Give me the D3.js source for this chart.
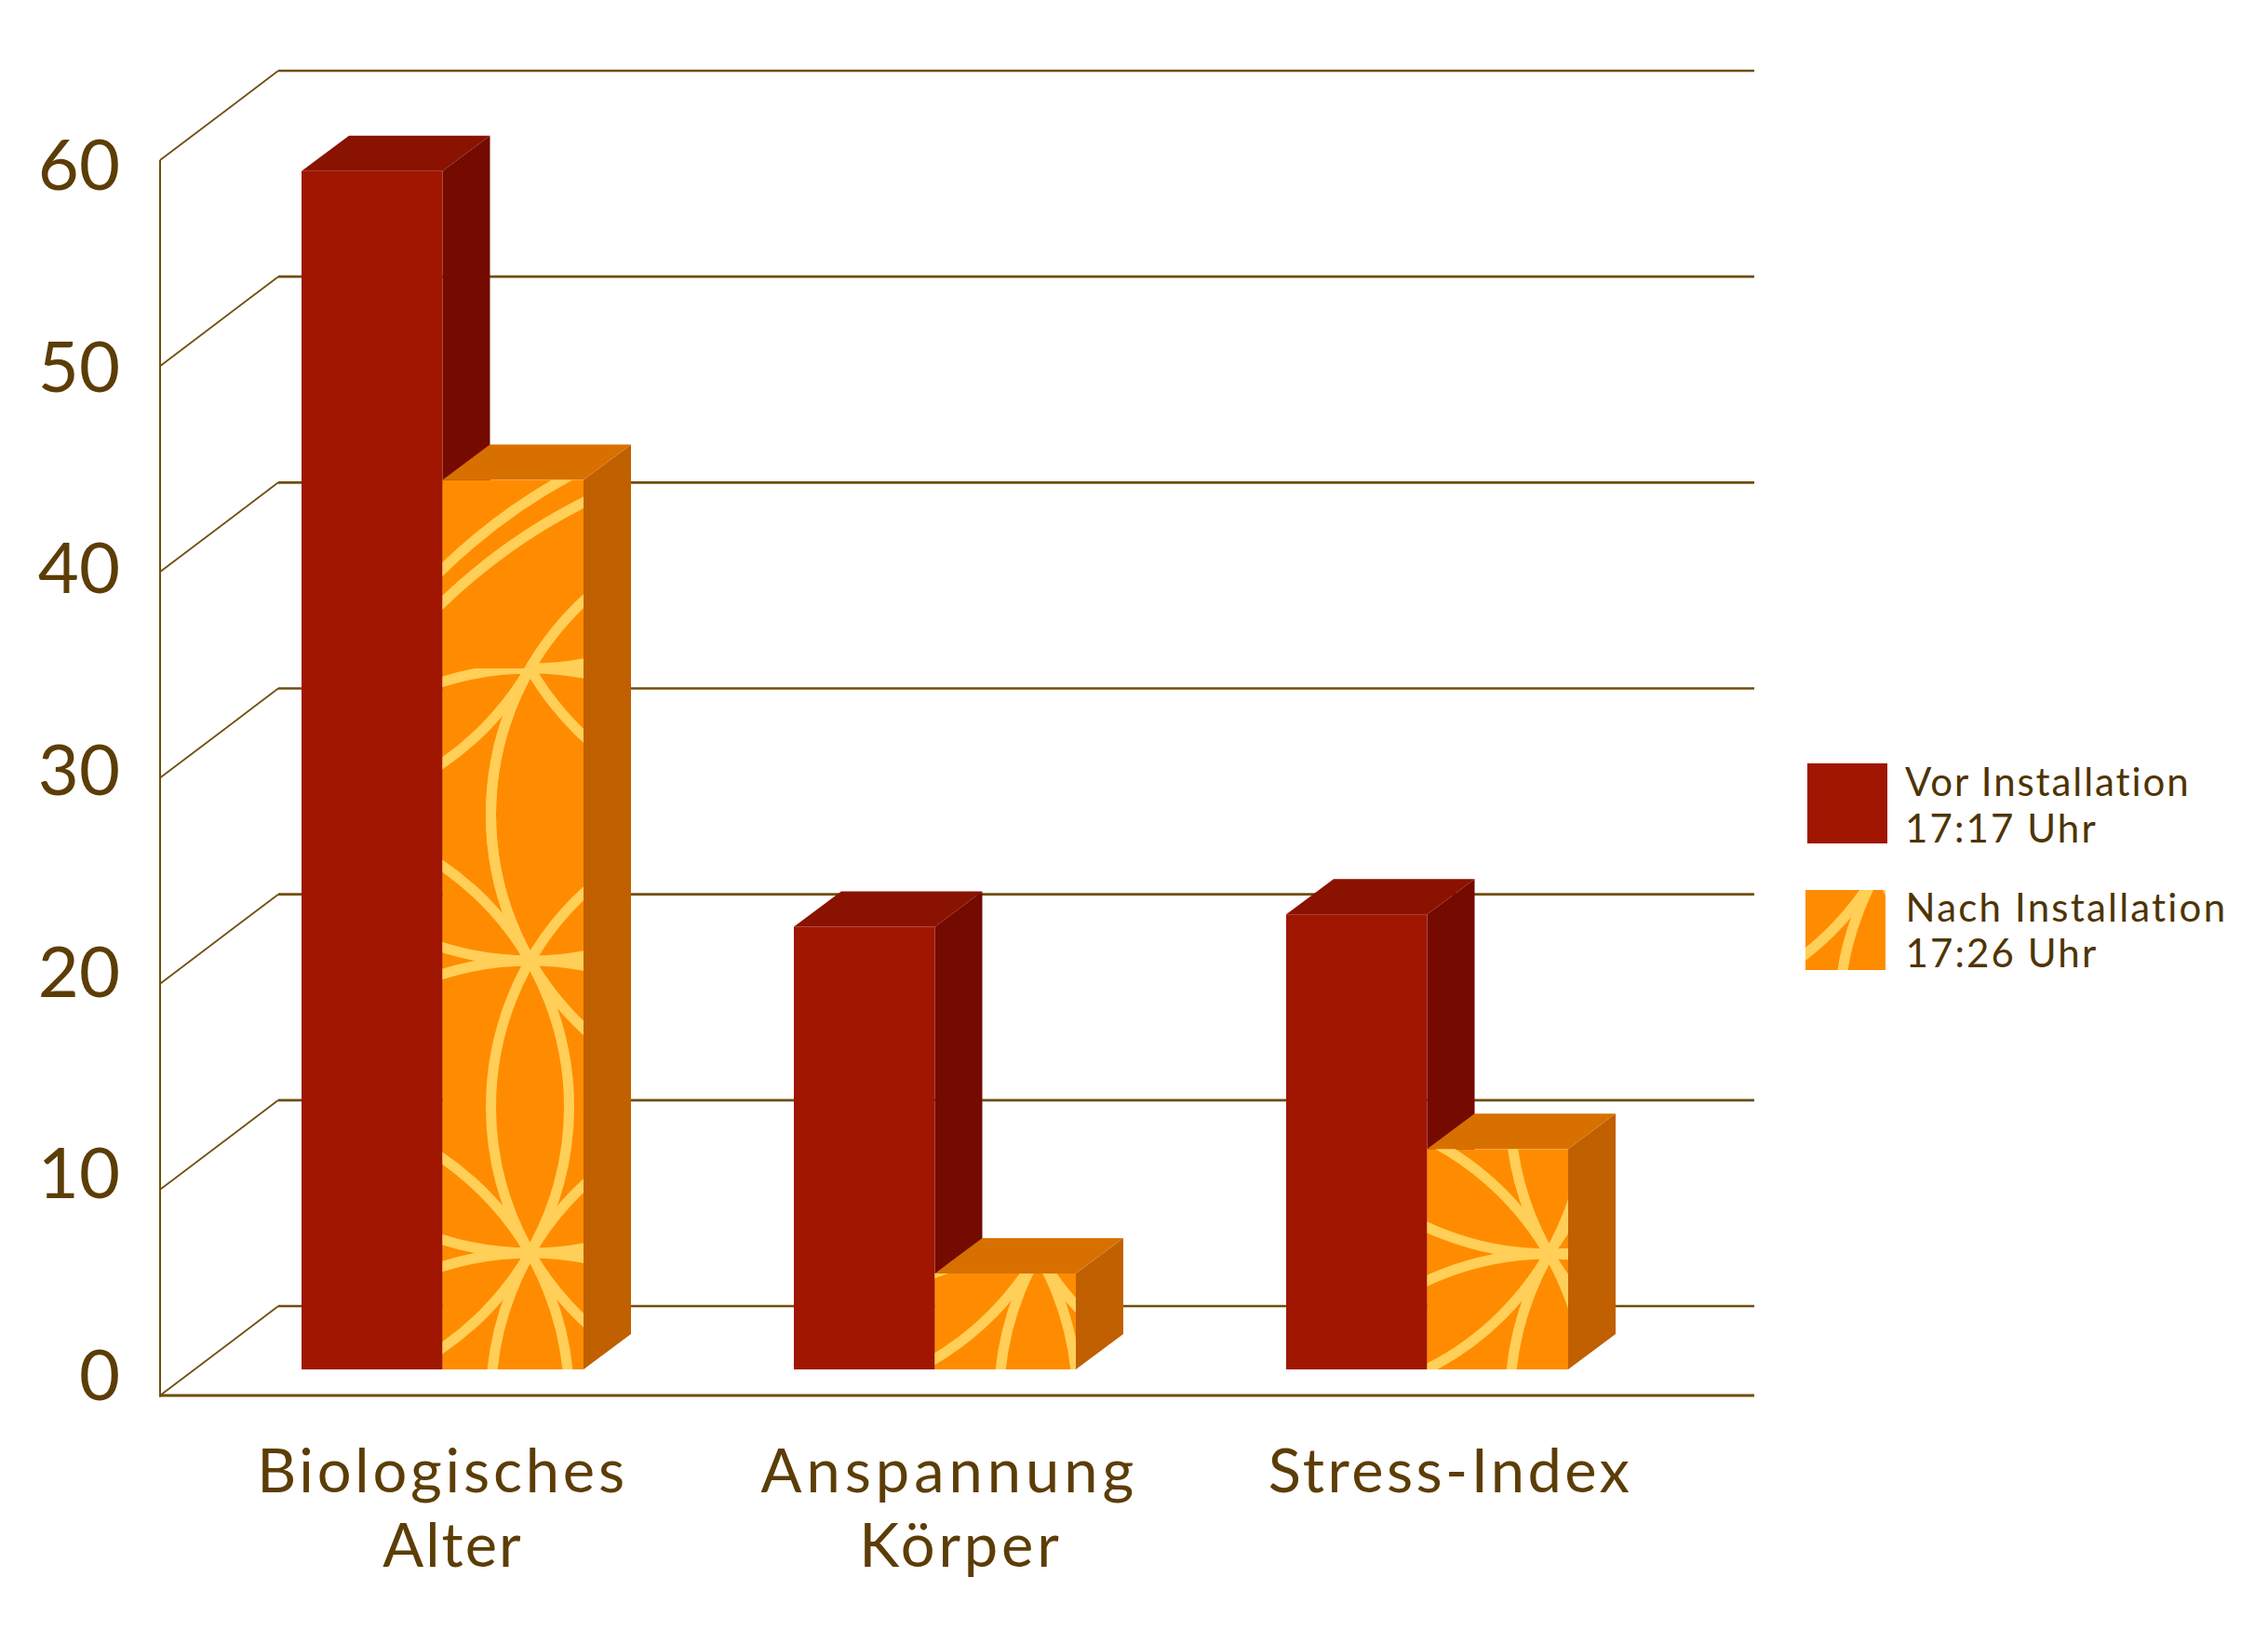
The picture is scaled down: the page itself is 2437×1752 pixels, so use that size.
<!DOCTYPE html>
<html><head><meta charset="utf-8">
<script src="https://cdnjs.cloudflare.com/ajax/libs/d3/7.8.5/d3.min.js"></script>
<style>html,body{margin:0;padding:0;background:#fff}svg{display:block}text{font-family:Lato,"Open Sans",sans-serif}</style>
</head><body>
<svg id="c" width="2437" height="1752"></svg>
<script>
const categories = [["Biologisches","Alter"],["Anspannung","Körper"],["Stress-Index"]];
const keys = ["Biologisches","Anspannung","Stress-Index"];
const vorValues = [58.2, 21.5, 22.1];
const nachValues = [43.2, 4.66, 10.7];
const tickValues = [0,10,20,30,40,50,60];
const legendLabels = [["Vor Installation","17:17 Uhr"],["Nach Installation","17:26 Uhr"]];

const svg = d3.select("#c");
const INK="#5c3d06", LINE="#6f4e0c", LEG="#4f3404";
const dxWall=127, dyWall=96, dxBar=51, dyBar=38;
const y = d3.scaleLinear().domain([0,60]).range([1499,172]);
const yLabel = d3.scaleLinear().domain([0,60]).range([1477,177]);
const yBar = d3.scaleLinear().domain([0,60]).range([1471,144]);
const x = d3.scaleBand().domain(keys).range([211,1798]).paddingInner(226/529).paddingOuter(113/529);
const xS = d3.scaleBand().domain(["vor","nach"]).range([0,x.bandwidth()]);

// walls and grid
const g = svg.append("g");
g.selectAll(".grid").data(tickValues).join("line")
  .attr("x1",172+dxWall).attr("x2",1885).attr("y1",d=>y(d)-dyWall).attr("y2",d=>y(d)-dyWall)
  .attr("stroke",LINE).attr("stroke-width",2.6);
g.selectAll(".diag").data(tickValues).join("line")
  .attr("x1",172).attr("y1",d=>y(d)).attr("x2",172+dxWall).attr("y2",d=>y(d)-dyWall)
  .attr("stroke",LINE).attr("stroke-width",1.8);
g.append("line").attr("x1",172).attr("x2",172).attr("y1",y(60)).attr("y2",y(0)+1.5).attr("stroke",LINE).attr("stroke-width",2);
g.append("line").attr("x1",171).attr("x2",1885).attr("y1",y(0)).attr("y2",y(0)).attr("stroke",LINE).attr("stroke-width",2.8);

// y labels through a d3 axis
const ax = svg.append("g").attr("transform","translate(129,0)")
  .call(d3.axisLeft(yLabel).tickValues(tickValues).tickSize(0).tickPadding(0));
ax.select(".domain").remove();
ax.selectAll("text").attr("fill",INK).attr("font-size",76).attr("font-family","Lato").attr("dy","0.35em");

// flower-of-life lattice texture
const R=314, CX=272, CY=157;
const defs = svg.append("defs");
function lattice(sel, nx, ny, clipId, rows){
  const gp = sel.append("g").attr("clip-path",`url(#${clipId})`);
  gp.selectAll("circle").data(rows).join("circle")
    .attr("cx",d=>nx+d[0]).attr("cy",d=>ny+d[1]).attr("r",d=>d[2]||R)
    .attr("fill","none").attr("stroke","#ffcf58").attr("stroke-width",11);
  return gp;
}
const six=[[-CX,-CY],[-CX,CY],[CX,-CY],[CX,CY],[0,-R],[0,R]];
const tallRows=[[-CX,-471],[CX,-471],[0,-314],[0,0],[0,314],[0,628],[CX,-157],[CX,157],[CX,471],[-CX,157],[-CX,471]];

function bar3d(sel, x0, w, v, cols){
  const yt=yBar(v), yb=yBar(0);
  const poly=(pts,f)=>sel.append("polygon").attr("points",pts.map(p=>p.join(",")).join(" ")).attr("fill",f);
  poly([[x0+w,yt],[x0+w+dxBar,yt-dyBar],[x0+w+dxBar,yb-dyBar],[x0+w,yb]],cols.side);
  poly([[x0,yt],[x0+dxBar,yt-dyBar],[x0+w+dxBar,yt-dyBar],[x0+w,yt]],cols.top);
  sel.append("rect").attr("x",x0).attr("y",yt).attr("width",w).attr("height",yb-yt).attr("fill",cols.front);
  return {x0,yt,w,h:yb-yt};
}
const redCols={front:"#a01600",side:"#740a00",top:"#8a1200"};
const orCols={front:"#ff8c00",side:"#c06000",top:"#d87000"};
const nodeOffsets=[94,111,131];
const bars=svg.append("g");
keys.forEach((k,i)=>{
  const gr=bars.append("g");
  bar3d(gr,x(k)+xS("vor"),xS.bandwidth(),vorValues[i],redCols);
  const b=bar3d(gr,x(k)+xS("nach"),xS.bandwidth(),nachValues[i],orCols);
  const id="clip"+i;
  defs.append("clipPath").attr("id",id).append("rect").attr("x",b.x0).attr("y",b.yt).attr("width",b.w).attr("height",b.h);
  if(i===0){
    const nx=b.x0+nodeOffsets[0], ny=1032;
    defs.append("clipPath").attr("id","clipLow").append("rect").attr("x",b.x0).attr("y",ny-314).attr("width",b.w).attr("height",yBar(0)-(ny-314));
    lattice(gr,nx,ny,"clipLow",tallRows);
    lattice(gr,nx,ny,id,[[CX,-157],[345,34,632],[345,74,635]]);
    defs.append("clipPath").attr("id","clipRH").append("rect").attr("x",nx).attr("y",b.yt).attr("width",b.x0+b.w-nx).attr("height",b.h);
    lattice(gr,nx,ny,"clipRH",[[0,-628]]);
  } else {
    lattice(gr,b.x0+nodeOffsets[i],1347,id,six);
  }
});

// category labels
const labelNudge=[[0,11],[16,28],[25]];
const labelSpacing=[[3.8,2],[5,3.8],[3.4]];
const catG=svg.append("g");
keys.forEach((k,i)=>{
  categories[i].forEach((t,j)=>{
    catG.append("text").attr("x",x(k)+x.bandwidth()/2+labelNudge[i][j]).attr("y",1603+j*80)
      .attr("text-anchor","middle").attr("fill",INK).attr("font-size",65).attr("letter-spacing",labelSpacing[i][j]).text(t);
  });
});

// legend
const leg=svg.append("g");
const swatchX=[1942,1940], swatchY=[820,956];
leg.append("rect").attr("x",swatchX[0]).attr("y",swatchY[0]).attr("width",86).attr("height",86).attr("fill",redCols.front);
leg.append("rect").attr("x",swatchX[1]).attr("y",swatchY[1]).attr("width",86).attr("height",86).attr("fill",orCols.front);
defs.append("clipPath").attr("id","clipLeg").append("rect").attr("x",swatchX[1]).attr("y",swatchY[1]).attr("width",86).attr("height",86);
lattice(leg,2018,935,"clipLeg",six);
const legTextX=[2047,2047.5], legBase=[[855,905],[990,1039]], legSpacing=[[1.9,2.1],[2.2,2.1]];
legendLabels.forEach((ls,i)=>ls.forEach((t,j)=>{
  leg.append("text").attr("x",legTextX[i]).attr("y",legBase[i][j]).attr("fill",LEG).attr("font-size",42).attr("letter-spacing",legSpacing[i][j]).text(t);
}));
</script>
</body></html>
